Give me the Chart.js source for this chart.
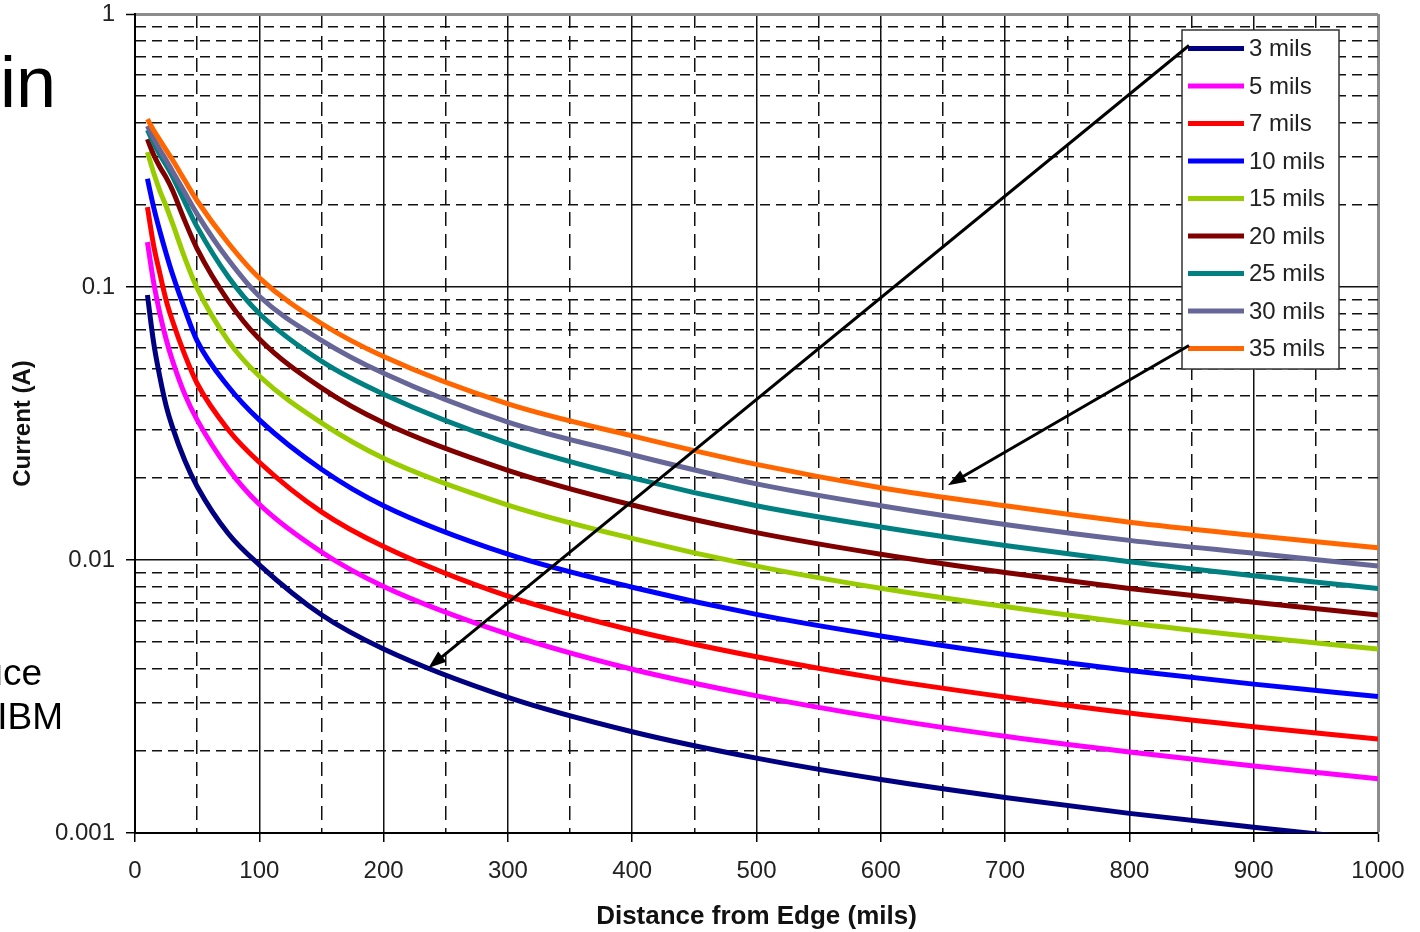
<!DOCTYPE html>
<html>
<head>
<meta charset="utf-8">
<title>Current vs Distance from Edge</title>
<script src="https://cdn.jsdelivr.net/npm/chart.js@4.4.1/dist/chart.umd.min.js"></script>
<style>
  html, body { margin: 0; padding: 0; background: #fff; }
  #wrap { width: 1420px; height: 932px; }
</style>
</head>
<body>
<div id="wrap"><canvas id="currentChart" width="1420" height="932"></canvas></div>
<script>
// distance from trace edge (mils)
const distances = [10, 15, 20, 25, 30, 40, 50, 75, 100, 150, 200, 300, 400, 500, 600, 700, 800, 900, 1000];

// current (A) for each trace width
const mils3  = [0.0935, 0.0625, 0.0468, 0.0368, 0.0308, 0.0232, 0.0186, 0.0125, 0.0096, 0.0063, 0.00472, 0.00314, 0.00235, 0.00188, 0.00157, 0.00135, 0.00118, 0.00105, 0.00094];
const mils5  = [0.146, 0.104, 0.080, 0.0645, 0.054, 0.0405, 0.0326, 0.0216, 0.0160, 0.0107, 0.0080, 0.00535, 0.00398, 0.00318, 0.00264, 0.00226, 0.00198, 0.00176, 0.00158];
const mils7  = [0.196, 0.142, 0.112, 0.0896, 0.0755, 0.0565, 0.0443, 0.0300, 0.0228, 0.0150, 0.0112, 0.00737, 0.00553, 0.00442, 0.00367, 0.00315, 0.00275, 0.00245, 0.00221];
const mils10 = [0.249, 0.196, 0.160, 0.133, 0.112, 0.0830, 0.0635, 0.0432, 0.0326, 0.0215, 0.0158, 0.0105, 0.00795, 0.00632, 0.00527, 0.00451, 0.00394, 0.00351, 0.00316];
const mils15 = [0.312, 0.262, 0.225, 0.198, 0.172, 0.128, 0.099, 0.0635, 0.0472, 0.0318, 0.0236, 0.0159, 0.0120, 0.00950, 0.00788, 0.00675, 0.00588, 0.00524, 0.00472];
const mils20 = [0.348, 0.305, 0.275, 0.252, 0.227, 0.175, 0.138, 0.089, 0.0645, 0.0427, 0.0318, 0.0213, 0.0159, 0.0126, 0.0105, 0.0090, 0.00787, 0.0070, 0.00629];
const mils25 = [0.376, 0.337, 0.305, 0.280, 0.255, 0.205, 0.166, 0.109, 0.0800, 0.0535, 0.0405, 0.0268, 0.0200, 0.0158, 0.0132, 0.0113, 0.00985, 0.00876, 0.00787];
const mils30 = [0.389, 0.350, 0.318, 0.292, 0.266, 0.222, 0.185, 0.126, 0.0925, 0.0638, 0.0483, 0.0320, 0.0243, 0.0190, 0.0158, 0.0135, 0.0118, 0.01058, 0.00951];
const mils35 = [0.412, 0.375, 0.345, 0.318, 0.293, 0.246, 0.207, 0.145, 0.108, 0.0735, 0.0556, 0.0373, 0.0285, 0.0224, 0.0184, 0.0158, 0.01375, 0.0123, 0.01109];

const seriesLabels = ["3 mils", "5 mils", "7 mils", "10 mils", "15 mils", "20 mils", "25 mils", "30 mils", "35 mils"];
const seriesValues = [mils3, mils5, mils7, mils10, mils15, mils20, mils25, mils30, mils35];
const seriesColors = ["#000080", "#ff00ff", "#ff0000", "#0000ff", "#99cc00", "#800000", "#008080", "#666699", "#ff6600"];

const xTickLabels = [0, 100, 200, 300, 400, 500, 600, 700, 800, 900, 1000];
const yDecades = [0.001, 0.01, 0.1, 1];
const yMinorSteps = [2, 3, 4, 5, 6, 7, 8, 9];

// arrows from a legend row to a point on the plot (data coords)
const arrows = [
  { fromRow: 0, toX: 236, toY: 0.00402 },
  { fromRow: 8, toX: 654, toY: 0.0188 },
];

const FONT = "'Liberation Sans', Arial, Helvetica, sans-serif";
Chart.defaults.font.family = FONT;
Chart.defaults.color = "#222";

const isDecade = v => Math.abs(Math.log10(v) - Math.round(Math.log10(v))) < 1e-9;
const tickVal = c => (c.tick ? c.tick.value : null);

const overlay = {
  id: "overlay",
  afterDraw(chart) {
    const { ctx, chartArea: area, scales } = chart;
    ctx.save();

    // legend box
    const box = { left: area.right - 196, top: area.top + 16, width: 157, height: 339 };
    const rowY = i => box.top + 18.5 + i * 37.5;
    ctx.fillStyle = "#fff";
    ctx.fillRect(box.left, box.top, box.width, box.height);
    ctx.strokeStyle = "#333";
    ctx.lineWidth = 1.5;
    ctx.strokeRect(box.left, box.top, box.width, box.height);
    ctx.font = "24px " + FONT;
    ctx.textBaseline = "middle";
    ctx.textAlign = "left";
    seriesLabels.forEach((label, i) => {
      const y = rowY(i);
      ctx.strokeStyle = seriesColors[i];
      ctx.lineWidth = 5;
      ctx.beginPath();
      ctx.moveTo(box.left + 6, y);
      ctx.lineTo(box.left + 62, y);
      ctx.stroke();
      ctx.fillStyle = "#222";
      ctx.fillText(label, box.left + 67, y + 1);
    });

    // arrows
    ctx.strokeStyle = "#000";
    ctx.fillStyle = "#000";
    arrows.forEach(a => {
      const x0 = box.left + 7, y0 = rowY(a.fromRow) - 3;
      const x1 = scales.x.getPixelForValue(a.toX), y1 = scales.y.getPixelForValue(a.toY);
      const ang = Math.atan2(y1 - y0, x1 - x0);
      const head = 18, half = 6.5;
      ctx.lineWidth = 3;
      ctx.beginPath();
      ctx.moveTo(x0, y0);
      ctx.lineTo(x1 - Math.cos(ang) * head * 0.8, y1 - Math.sin(ang) * head * 0.8);
      ctx.stroke();
      ctx.beginPath();
      ctx.moveTo(x1, y1);
      ctx.lineTo(x1 - Math.cos(ang) * head - Math.sin(ang) * half, y1 - Math.sin(ang) * head + Math.cos(ang) * half);
      ctx.lineTo(x1 - Math.cos(ang) * head + Math.sin(ang) * half, y1 - Math.sin(ang) * head - Math.cos(ang) * half);
      ctx.closePath();
      ctx.fill();
    });

    // slide text peeking in at the left
    ctx.fillStyle = "#000";
    ctx.textAlign = "right";
    ctx.textBaseline = "alphabetic";
    ctx.font = "72px " + FONT;
    ctx.fillText("in", 56, 107);
    ctx.font = "37px " + FONT;
    ctx.fillText("uce", 42, 685);
    ctx.fillText("IBM", 63, 729);

    ctx.restore();
  }
};

new Chart(document.getElementById("currentChart"), {
  type: "line",
  data: {
    datasets: seriesLabels.map((label, i) => ({
      label,
      data: distances.map((d, j) => ({ x: d, y: seriesValues[i][j] })),
      borderColor: seriesColors[i],
      backgroundColor: seriesColors[i],
      borderWidth: 5,
      pointRadius: 0,
      cubicInterpolationMode: "monotone",
      order: seriesLabels.length - i,
    })),
  },
  options: {
    responsive: false,
    animation: false,
    events: [],
    devicePixelRatio: 1,
    layout: { padding: { top: 14, right: 42, left: 0, bottom: 0 } },
    plugins: {
      legend: { display: false },
      tooltip: { enabled: false },
    },
    scales: {
      x: {
        type: "linear",
        min: 0,
        max: 1000,
        afterFit: s => { s.height = 99; s.paddingLeft = 0; s.paddingRight = 0; },
        ticks: {
          stepSize: 50,
          autoSkip: false,
          maxRotation: 0,
          padding: 15,
          color: "#222",
          font: { size: 24 },
          callback: v => (xTickLabels.includes(v) ? String(v) : ""),
        },
        grid: {
          color: c => (tickVal(c) === 1000 ? "#8c8c8c" : "#111"),
          lineWidth: c => (tickVal(c) === 1000 ? 3 : 1.5),
          tickColor: c => (xTickLabels.includes(tickVal(c)) ? "#000" : "rgba(0,0,0,0)"),
          tickLength: 9,
          tickWidth: 1.5,
        },
        border: {
          display: true,
          color: "#000",
          width: 2,
          dash: c => (c.tick && !xTickLabels.includes(c.tick.value) ? [14, 8] : []),
        },
        title: {
          display: true,
          text: "Distance from Edge (mils)",
          color: "#111",
          font: { size: 26, weight: "bold" },
          padding: { top: 0, bottom: 0 },
        },
      },
      y: {
        type: "logarithmic",
        min: 0.001,
        max: 1,
        afterFit: s => { s.width = 135; s.paddingTop = 0; s.paddingBottom = 0; },
        afterBuildTicks: s => {
          const vals = [];
          yDecades.forEach(d => {
            vals.push(d);
            if (d < 1) yMinorSteps.forEach(k => vals.push(d * k));
          });
          s.ticks = vals.map(v => ({ value: v }));
        },
        ticks: {
          autoSkip: false,
          padding: 11,
          color: "#222",
          font: { size: 24 },
          callback: v => (yDecades.includes(v) ? String(v) : ""),
        },
        grid: {
          color: c => (tickVal(c) === 1 ? "#8c8c8c" : "#111"),
          lineWidth: c => (tickVal(c) === 1 ? 3 : 1.5),
          tickColor: c => (c.tick && isDecade(c.tick.value) ? "#000" : "rgba(0,0,0,0)"),
          tickLength: 9,
          tickWidth: 1.5,
        },
        border: {
          display: true,
          color: "#000",
          width: 2,
          dash: c => (c.tick && !isDecade(c.tick.value) ? [10, 6] : []),
        },
        title: {
          display: true,
          text: "Current (A)",
          color: "#111",
          font: { size: 24, weight: "bold" },
          padding: { top: 9, bottom: 0 },
        },
      },
    },
  },
  plugins: [overlay],
});
</script>
</body>
</html>
